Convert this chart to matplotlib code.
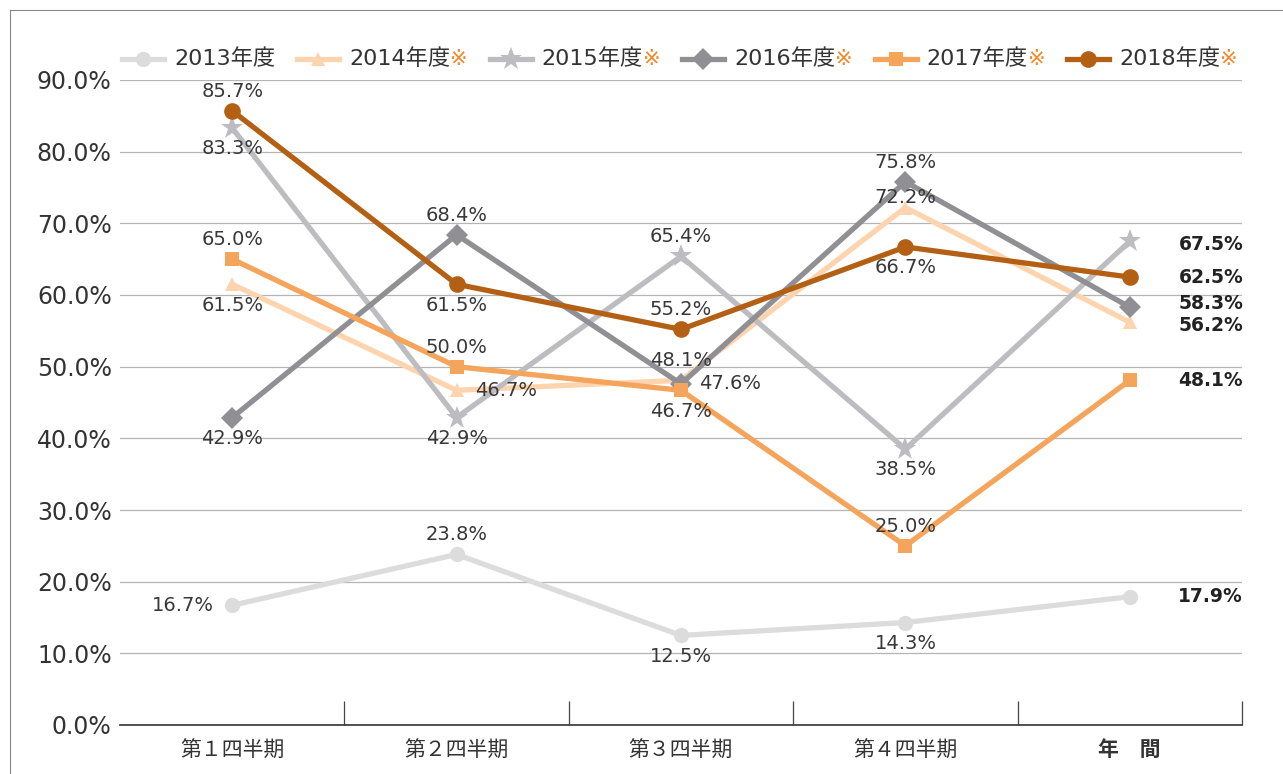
import matplotlib.pyplot as plt
from matplotlib.lines import Line2D
from matplotlib.ticker import FixedLocator, NullFormatter

plt.rcParams['font.family'] = ['DejaVu Sans', 'Noto Sans CJK JP']

categories = ['第１四半期', '第２四半期', '第３四半期', '第４四半期', '年　間']
years = ['2013年度', '2014年度', '2015年度', '2016年度', '2017年度', '2018年度']
starred = [False, True, True, True, True, True]

v2013 = [16.7, 23.8, 12.5, 14.3, 17.9]
v2014 = [61.5, 46.7, 48.1, 72.2, 56.2]
v2015 = [83.3, 42.9, 65.4, 38.5, 67.5]
v2016 = [42.9, 68.4, 47.6, 75.8, 58.3]
v2017 = [65.0, 50.0, 46.7, 25.0, 48.1]
v2018 = [85.7, 61.5, 55.2, 66.7, 62.5]
series = [v2013, v2014, v2015, v2016, v2017, v2018]

colors = ['#dcdcdd', '#fdd4ae', '#bdbdc1', '#8f8f94', '#f5a45c', '#b35f14']
markers = ['o', '^', '*', 'D', 's', 'o']
msizes = [11, 10, 17, 11, 10, 12]

# label placement for the four quarters: 'a' above, 'A' just above, 'b' below, 'l' left, 'r' right
placement = [
    ['l', 'a', 'b', 'b'],
    ['b', 'r', 'a', 'A'],
    ['b', 'b', 'a', 'b'],
    ['b', 'a', 'r', 'a'],
    ['a', 'a', 'b', 'a'],
    ['a', 'b', 'a', 'b'],
]
offsets = {'a': (0, 14), 'A': (0, 7), 'b': (0, -15), 'l': (-13, 0), 'r': (13, 0)}
aligns = {'a': 'center', 'A': 'center', 'b': 'center', 'l': 'right', 'r': 'left'}
# small vertical nudge of the annual labels (points), so close values do not collide
annual_nudge = [0, -2, -2, 3, 0, 0]

W, H = 1283, 774
fig = plt.figure(figsize=(W / 100, H / 100), dpi=100)
ax = fig.add_axes([120 / W, 1 - 725 / H, 1122 / W, 645 / H])

x = list(range(len(categories)))
for i, vals in enumerate(series):
    ax.plot(x, vals, color=colors[i], lw=3.8, marker=markers[i],
            markersize=msizes[i], markeredgewidth=0, zorder=3 + i * 0.1)

txt_color = '#383838'
for i, vals in enumerate(series):
    for j, pos in enumerate(placement[i]):
        ax.annotate(f'{vals[j]:.1f}%', (j, vals[j]), xytext=offsets[pos], textcoords='offset points',
                    ha=aligns[pos], va='center', fontsize=14, color=txt_color, zorder=10)
    ax.annotate(f'{vals[4]:.1f}%', (4, vals[4]), xytext=(35, annual_nudge[i]), textcoords='offset points',
                ha='left', va='center', fontsize=13.5, color='#222222', fontweight='bold', zorder=10)

ax.set_xlim(-0.5, 4.5)
ax.set_ylim(0, 90)
ax.set_yticks(range(0, 91, 10))
ax.set_yticklabels([f'{v:.1f}%' for v in range(0, 91, 10)], fontsize=17, color='#333333')
ax.yaxis.grid(True, color='#b5b5b5', lw=0.9)
ax.set_axisbelow(True)
ax.tick_params(axis='y', length=0, pad=6)

ax.xaxis.set_major_locator(FixedLocator([0.5, 1.5, 2.5, 3.5, 4.5]))
ax.xaxis.set_major_formatter(NullFormatter())
ax.xaxis.set_minor_locator(FixedLocator(x))
ax.set_xticklabels(categories, minor=True, fontsize=15, color='#333333')
ax.get_xticklabels(minor=True)[-1].set_fontweight('bold')
ax.tick_params(axis='x', which='major', direction='in', length=17, color='#444444', width=0.9)
ax.tick_params(axis='x', which='minor', length=0, pad=11)

for sp in ['left', 'right', 'top']:
    ax.spines[sp].set_visible(False)
ax.spines['bottom'].set_color('#333333')
ax.spines['bottom'].set_linewidth(1.2)

# legend drawn by hand so the ※ can be orange
fig.canvas.draw()
r = fig.canvas.get_renderer()
leg_y = 1 - 59 / H
hlen, hgap, fs = 42, 10, 16
texts, widths = [], []
for yr, s in zip(years, starred):
    t = fig.text(0, leg_y, yr, ha='left', va='center', fontsize=fs, color='#333333')
    w = t.get_window_extent(r).width
    st = None
    if s:
        st = fig.text(0, leg_y, '※', ha='left', va='center', fontsize=fs - 1, color='#f08a2a')
        w += st.get_window_extent(r).width
    texts.append((t, st))
    widths.append(hlen + hgap + w)
x0, x1 = 122, 1238
gap = (x1 - x0 - sum(widths)) / (len(widths) - 1)
cur = x0
for i, ((t, st), w) in enumerate(zip(texts, widths)):
    fig.add_artist(Line2D([cur / W, (cur + hlen) / W], [leg_y, leg_y], transform=fig.transFigure,
                          color=colors[i], lw=3.8))
    fig.add_artist(Line2D([(cur + hlen / 2) / W], [leg_y], transform=fig.transFigure,
                          color=colors[i], marker=markers[i], markersize=msizes[i], markeredgewidth=0))
    t.set_x((cur + hlen + hgap) / W)
    if st is not None:
        st.set_x((cur + hlen + hgap + t.get_window_extent(r).width) / W)
    cur += w + gap

# outer frame
fig.add_artist(Line2D([10 / W, 10 / W], [0, 1 - 10 / H], transform=fig.transFigure,
                      color='#888888', lw=0.8))
fig.add_artist(Line2D([10 / W, 1], [1 - 10 / H, 1 - 10 / H], transform=fig.transFigure,
                      color='#888888', lw=0.8))

fig.savefig('out.png', dpi=100)
